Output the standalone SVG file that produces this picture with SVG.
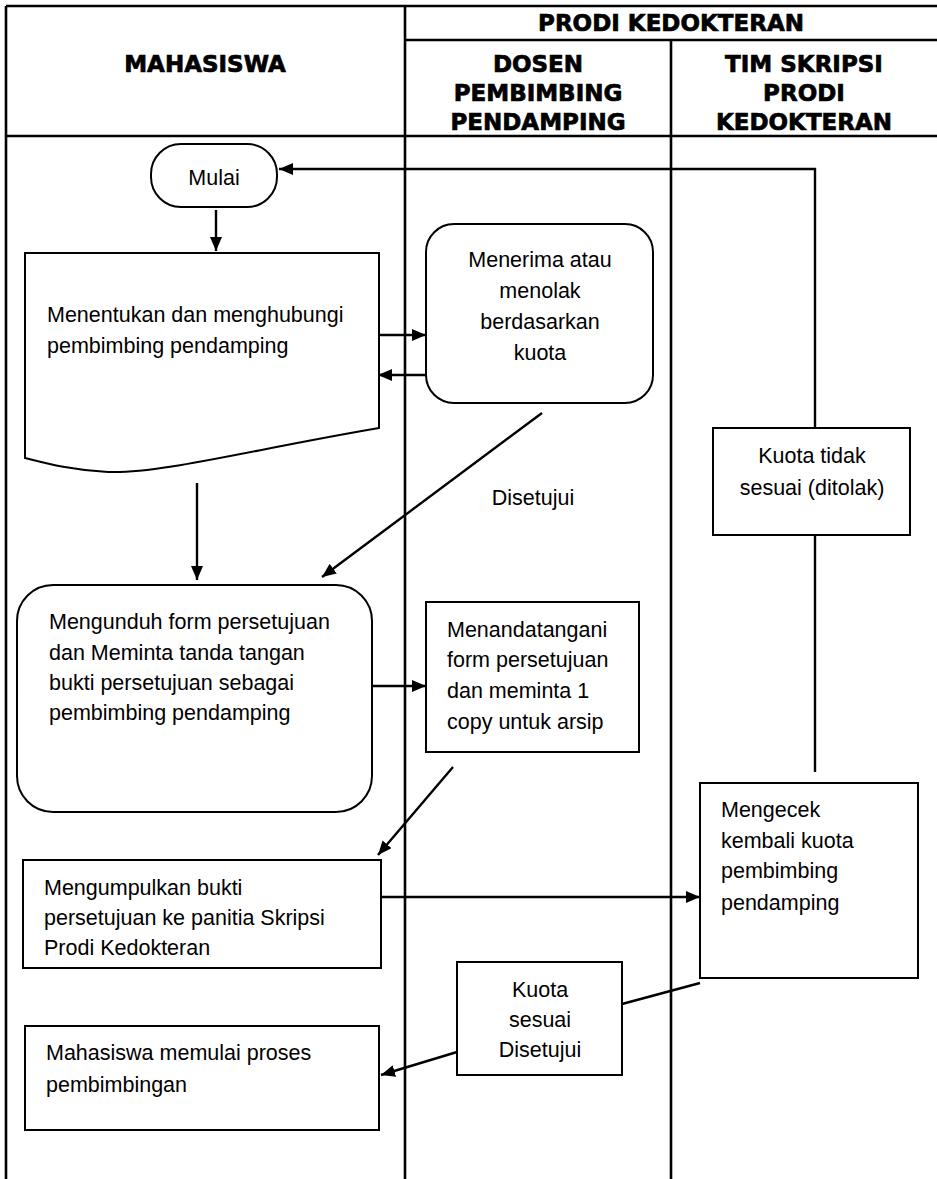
<svg xmlns="http://www.w3.org/2000/svg" width="937" height="1179" viewBox="0 0 937 1179">
<defs>
<style>
.lane{stroke:#000;stroke-width:2.6;fill:none}
.box{fill:#fff;stroke:#000;stroke-width:2}
.con{stroke:#000;stroke-width:2.4;fill:none}
.hd{font-family:"DejaVu Sans",Verdana,sans-serif;font-weight:bold;font-size:23px;fill:#000;stroke:#000;stroke-width:0.7;text-anchor:middle}
.t{font-family:"Liberation Sans",Arial,sans-serif;font-size:21.5px;fill:#000}
.c{text-anchor:middle}
</style>
<marker id="ah" viewBox="0 0 14 12" refX="14" refY="6" markerWidth="14" markerHeight="12" markerUnits="userSpaceOnUse" orient="auto">
<path d="M0,0 L14,6 L0,12 Z" fill="#000"/>
</marker>
</defs>
<rect width="937" height="1179" fill="#fff"/>
<g id="lanes">
<line class="lane" x1="6" y1="6" x2="937" y2="6"/>
<line class="lane" x1="6" y1="6" x2="6" y2="1179"/>
<line class="lane" x1="405" y1="6" x2="405" y2="1179"/>
<line class="lane" x1="405" y1="40" x2="937" y2="40"/>
<line class="lane" x1="671" y1="40" x2="671" y2="1179"/>
<line class="lane" x1="6" y1="136" x2="937" y2="136"/>
<text class="hd" x="671" y="31">PRODI KEDOKTERAN</text>
<text class="hd" x="205" y="72">MAHASISWA</text>
<text class="hd" x="538" y="72">DOSEN</text>
<text class="hd" x="538" y="101">PEMBIMBING</text>
<text class="hd" x="538" y="130">PENDAMPING</text>
<text class="hd" x="804" y="72">TIM SKRIPSI</text>
<text class="hd" x="804" y="101">PRODI</text>
<text class="hd" x="804" y="130">KEDOKTERAN</text>
</g>
<g id="connectors">
<polyline class="con" points="815,428 815,169 279,169" marker-end="url(#ah)"/>
<line class="con" x1="815" y1="535" x2="815" y2="772"/>
<line class="con" x1="216" y1="210" x2="216" y2="251" marker-end="url(#ah)"/>
<line class="con" x1="379" y1="335" x2="426" y2="335" marker-end="url(#ah)"/>
<line class="con" x1="426" y1="375" x2="378" y2="375" marker-end="url(#ah)"/>
<line class="con" x1="542" y1="413" x2="322" y2="577" marker-end="url(#ah)"/>
<line class="con" x1="197" y1="483" x2="197" y2="580" marker-end="url(#ah)"/>
<line class="con" x1="372" y1="686" x2="426" y2="686" marker-end="url(#ah)"/>
<line class="con" x1="453" y1="767" x2="378" y2="855" marker-end="url(#ah)"/>
<line class="con" x1="381" y1="897" x2="700" y2="897" marker-end="url(#ah)"/>
<line class="con" x1="700" y1="983" x2="622" y2="1004"/>
<line class="con" x1="457" y1="1052" x2="381" y2="1075" marker-end="url(#ah)"/>
</g>
<g id="mulai">
<rect class="box" x="151" y="144" width="126" height="63" rx="30"/>
<text class="t c" x="214" y="185">Mulai</text>
</g>
<g id="menentukan">
<path class="box" d="M25,253 L379,253 L379,428 C250,450 160,474 108,472 C70,470 45,463 25,458 Z"/>
<text class="t" x="47" y="322">Menentukan dan menghubungi</text>
<text class="t" x="47" y="353">pembimbing pendamping</text>
</g>
<g id="menerima">
<rect class="box" x="426" y="224" width="227" height="179" rx="28"/>
<text class="t c" x="540" y="267">Menerima atau</text>
<text class="t c" x="540" y="298">menolak</text>
<text class="t c" x="540" y="329">berdasarkan</text>
<text class="t c" x="540" y="360">kuota</text>
</g>
<g id="disetujui-label">
<text class="t c" x="533" y="505">Disetujui</text>
</g>
<g id="kuota-tidak">
<rect class="box" x="713" y="428" width="197" height="107"/>
<text class="t c" x="812" y="463">Kuota tidak</text>
<text class="t c" x="812" y="495">sesuai (ditolak)</text>
</g>
<g id="mengunduh">
<rect class="box" x="17" y="585" width="355" height="227" rx="36"/>
<text class="t" x="49" y="629">Mengunduh form persetujuan</text>
<text class="t" x="49" y="660">dan Meminta tanda tangan</text>
<text class="t" x="49" y="690">bukti persetujuan sebagai</text>
<text class="t" x="49" y="720">pembimbing pendamping</text>
</g>
<g id="menandatangani">
<rect class="box" x="426" y="602" width="213" height="150"/>
<text class="t" x="447" y="637">Menandatangani</text>
<text class="t" x="447" y="667">form persetujuan</text>
<text class="t" x="447" y="698">dan meminta 1</text>
<text class="t" x="447" y="729">copy untuk arsip</text>
</g>
<g id="mengecek">
<rect class="box" x="700" y="783" width="218" height="195"/>
<text class="t" x="721" y="817">Mengecek</text>
<text class="t" x="721" y="848">kembali kuota</text>
<text class="t" x="721" y="878">pembimbing</text>
<text class="t" x="721" y="910">pendamping</text>
</g>
<g id="mengumpulkan">
<rect class="box" x="23" y="860" width="358" height="108"/>
<text class="t" x="44" y="895">Mengumpulkan bukti</text>
<text class="t" x="44" y="925">persetujuan ke panitia Skripsi</text>
<text class="t" x="44" y="955">Prodi Kedokteran</text>
</g>
<g id="kuota-sesuai">
<rect class="box" x="457" y="962" width="165" height="113"/>
<text class="t c" x="540" y="997">Kuota</text>
<text class="t c" x="540" y="1027">sesuai</text>
<text class="t c" x="540" y="1057">Disetujui</text>
</g>
<g id="memulai">
<rect class="box" x="25" y="1026" width="354" height="104"/>
<text class="t" x="46" y="1060">Mahasiswa memulai proses</text>
<text class="t" x="46" y="1092">pembimbingan</text>
</g>
</svg>
